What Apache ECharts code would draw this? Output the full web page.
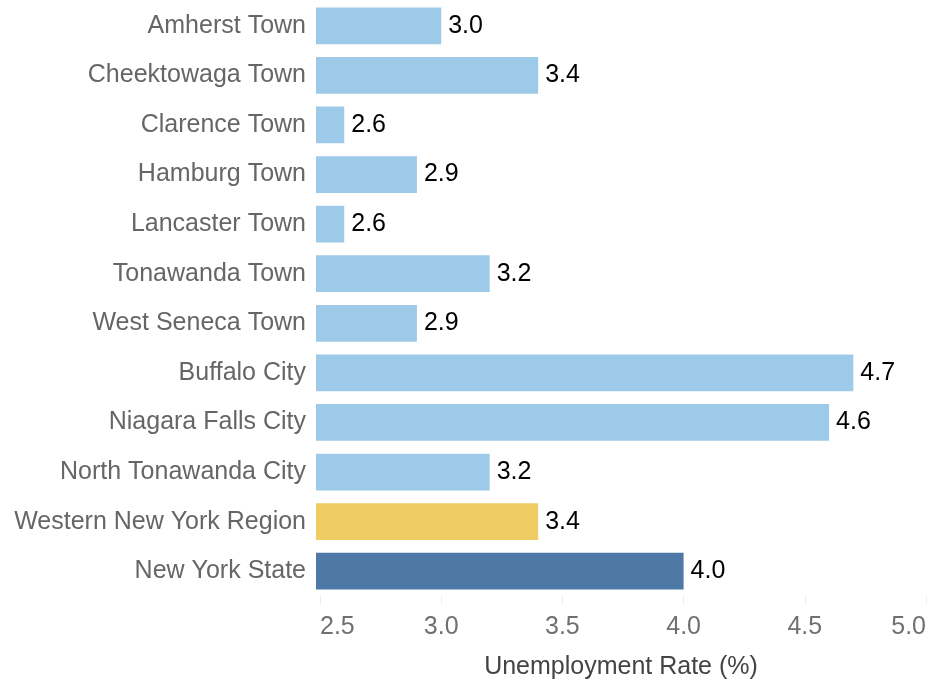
<!DOCTYPE html>
<html>
<head>
    <meta charset="utf-8">
</head>
<body style="margin:0;background:#fff;">

<div id="main" style="width: 927px;height:680px;"></div>
<script src="https://cdn.jsdelivr.net/npm/echarts@6/dist/echarts.min.js"></script>
<script type="text/javascript">
    var places = ['Amherst Town', 'Cheektowaga Town', 'Clarence Town', 'Hamburg Town', 'Lancaster Town',
        'Tonawanda Town', 'West Seneca Town', 'Buffalo City', 'Niagara Falls City', 'North Tonawanda City',
        'Western New York Region', 'New York State'];
    var rates = [3.0, 3.4, 2.6, 2.9, 2.6, 3.2, 2.9, 4.7, 4.6, 3.2, 3.4, 4.0];
    var barColors = ['#9ecae9', '#9ecae9', '#9ecae9', '#9ecae9', '#9ecae9', '#9ecae9', '#9ecae9',
        '#9ecae9', '#9ecae9', '#9ecae9', '#f0cd62', '#4e79a7'];
    var xTicks = [2.5, 3.0, 3.5, 4.0, 4.5, 5.0];

    var font = 'Liberation Sans, Arial, sans-serif';
    var barData = rates.map(function (v, i) {
        return { value: v, itemStyle: { color: barColors[i] } };
    });

    option = {
        animation: false,
        grid: {
            left: 316,
            right: 1,
            top: 1,
            bottom: 84,
            outerBoundsMode: 'none'
        },
        xAxis: {
            type: 'value',
            min: 2.4835,
            max: 5.0,
            name: 'Unemployment Rate (%)',
            nameLocation: 'middle',
            nameGap: 59,
            nameTextStyle: { fontFamily: font, fontSize: 25, color: '#444' },
            axisLine: { show: false },
            splitLine: { show: false },
            axisTick: {
                show: true,
                length: 8,
                customValues: xTicks,
                lineStyle: { color: '#ebebeb', width: 1 }
            },
            axisLabel: {
                customValues: xTicks,
                margin: 19,
                fontFamily: font,
                fontSize: 25,
                color: '#707070',
                alignMinLabel: 'left',
                alignMaxLabel: 'right',
                formatter: function (v) { return v.toFixed(1); }
            }
        },
        yAxis: {
            type: 'category',
            inverse: true,
            data: places,
            axisLine: { show: false },
            axisTick: { show: false },
            axisLabel: {
                margin: 10,
                padding: [4, 0, 0, 0],
                fontFamily: font,
                fontSize: 25,
                color: '#666'
            }
        },
        series: [
            {
                type: 'bar',
                data: barData,
                barCategoryGap: '26%',
                label: {
                    show: true,
                    position: 'right',
                    distance: 7,
                    fontFamily: font,
                    fontSize: 25,
                    color: '#000',
                    formatter: function (p) { return p.value.toFixed(1); }
                }
            }
        ]
    };
    var myChart = echarts.init(document.getElementById('main'));
    myChart.setOption(option);
</script>
</body>
</html>
